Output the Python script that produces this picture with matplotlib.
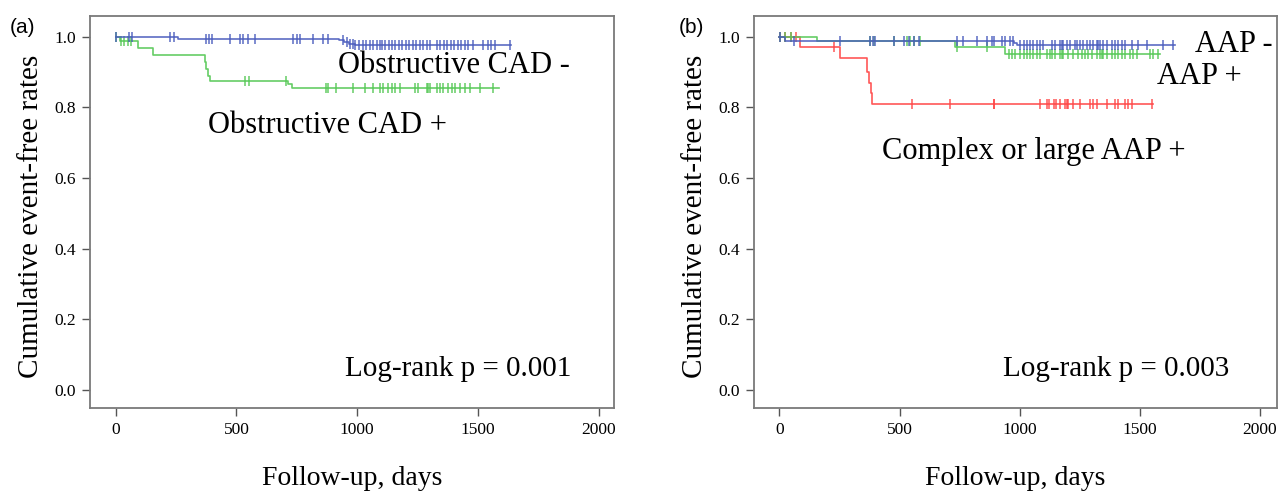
import numpy as np
import matplotlib
matplotlib.use("Agg")
import matplotlib.pyplot as plt

plt.rcParams["font.family"] = ["Liberation Serif", "DejaVu Serif"]

# ---- panel (a): obstructive CAD ----
a_neg_t = [0, 257, 925, 945, 965, 990, 1635]
a_neg_s = [1.0, 0.994, 0.990, 0.986, 0.981, 0.977, 0.977]
a_neg_cens = [3, 54, 66, 224, 240, 374, 385, 397, 472, 513, 526, 547, 576, 733, 749,
              762, 816, 857, 878, 940, 956, 969, 981, 992, 1008, 1022, 1037, 1051, 1066,
              1080, 1094, 1101, 1115, 1130, 1144, 1158, 1172, 1187, 1201, 1215, 1230, 1244,
              1258, 1273, 1287, 1301, 1330, 1344, 1358, 1372, 1387, 1401, 1415, 1430, 1444,
              1458, 1479, 1520, 1541, 1555, 1569, 1631]
a_pos_t = [0, 17, 92, 155, 369, 376, 383, 390, 714, 728, 1585]
a_pos_s = [1.0, 0.987, 0.968, 0.949, 0.930, 0.910, 0.890, 0.876, 0.866, 0.856, 0.856]
a_pos_cens = [3, 24, 37, 51, 65, 534, 552, 707, 872, 879, 914, 983, 1031, 1066, 1093,
              1107, 1128, 1142, 1155, 1176, 1238, 1252, 1287, 1293, 1300, 1328, 1342,
              1356, 1376, 1390, 1404, 1424, 1445, 1466, 1507, 1562]

# ---- panel (b): AAP ----
b_neg_t = [0, 25, 975, 990, 1647]
b_neg_s = [1.0, 0.988, 0.982, 0.976, 0.976]
b_neg_cens = [4, 59, 254, 378, 388, 399, 475, 517, 538, 559, 580, 739, 766, 822, 864,
              884, 891, 926, 940, 961, 972, 1002, 1016, 1030, 1044, 1057, 1072, 1085,
              1099, 1134, 1148, 1168, 1175, 1182, 1196, 1210, 1231, 1238, 1251, 1265,
              1279, 1293, 1307, 1321, 1328, 1335, 1348, 1362, 1383, 1397, 1411, 1425,
              1439, 1466, 1494, 1529, 1598, 1640]
b_pos_t = [0, 157, 732, 940, 1584]
b_pos_s = [1.0, 0.988, 0.970, 0.952, 0.952]
b_pos_cens = [4, 25, 46, 378, 392, 475, 531, 545, 559, 586, 739, 864, 954, 968, 981,
              1002, 1016, 1030, 1044, 1057, 1072, 1085, 1113, 1127, 1134, 1148, 1168,
              1175, 1182, 1203, 1223, 1244, 1258, 1272, 1286, 1300, 1321, 1335, 1342,
              1348, 1362, 1383, 1397, 1411, 1425, 1439, 1459, 1473, 1487, 1543, 1556, 1577]
b_cx_t = [0, 87, 254, 365, 372, 380, 386, 1554]
b_cx_s = [1.0, 0.972, 0.940, 0.900, 0.870, 0.840, 0.810, 0.810]
b_cx_cens = [4, 25, 46, 67, 226, 551, 711, 891, 895, 1085, 1113, 1124, 1141, 1152,
             1168, 1189, 1196, 1203, 1223, 1251, 1293, 1307, 1320, 1362, 1397, 1411,
             1439, 1452, 1466, 1550]

BLUE = "#4a5cbd"
GREEN = "#55c855"
RED = "#ff4545"


def km_curve(ax, t, s, cens, color):
    t = np.asarray(t, dtype=float)
    s = np.asarray(s, dtype=float)
    ax.step(t, s, where="post", color=color, lw=1.2, alpha=0.9)
    c = np.asarray(cens, dtype=float)
    idx = np.searchsorted(t, c, side="right") - 1
    ax.plot(c, s[idx], ls="none", marker="|", ms=7, mew=1.1, color=color, alpha=0.9)


def style_axes(ax, xmax):
    ax.set_xlim(-106, xmax)
    ax.set_ylim(-0.051, 1.059)
    ax.set_xticks([0, 500, 1000, 1500, 2000])
    ax.set_yticks([0.0, 0.2, 0.4, 0.6, 0.8, 1.0])
    ax.set_yticklabels(["0.0", "0.2", "0.4", "0.6", "0.8", "1.0"])
    for sp in ax.spines.values():
        sp.set_color("#7a7a7a")
        sp.set_linewidth(1.3)
    ax.tick_params(direction="out", length=6, width=1.0, color="#555555",
                   labelsize=12.5, pad=4)
    ax.set_xlabel("Follow-up, days", fontsize=20)
    ax.xaxis.set_label_coords(0.5, -0.179)
    ax.xaxis.label.set_verticalalignment("center")
    ax.set_ylabel("Cumulative event-free rates", fontsize=21)
    ax.yaxis.set_label_coords(-0.112, 0.49)
    ax.yaxis.label.set_verticalalignment("center")


fig = plt.figure(figsize=(12.83, 4.94), dpi=100)
ax1 = fig.add_axes([0.0701, 0.1741, 0.4084, 0.7935])
ax2 = fig.add_axes([0.5877, 0.1741, 0.4076, 0.7935])

km_curve(ax1, a_pos_t, a_pos_s, a_pos_cens, GREEN)
km_curve(ax1, a_neg_t, a_neg_s, a_neg_cens, BLUE)
style_axes(ax1, 2062)
ax1.text(919, 0.918, "Obstructive CAD -", fontsize=22, va="center", ha="left")
ax1.text(381, 0.75, "Obstructive CAD +", fontsize=22, va="center", ha="left")
ax1.text(948, 0.06, "Log-rank p = 0.001", fontsize=21, va="center", ha="left")

km_curve(ax2, b_cx_t, b_cx_s, b_cx_cens, RED)
km_curve(ax2, b_pos_t, b_pos_s, b_pos_cens, GREEN)
km_curve(ax2, b_neg_t, b_neg_s, b_neg_cens, BLUE)
style_axes(ax2, 2071)
ax2.text(1730, 0.977, "AAP -", fontsize=22, va="center", ha="left", clip_on=False)
ax2.text(1572, 0.887, "AAP +", fontsize=22, va="center", ha="left")
ax2.text(428, 0.674, "Complex or large AAP +", fontsize=22, va="center", ha="left")
ax2.text(931, 0.06, "Log-rank p = 0.003", fontsize=21, va="center", ha="left")

fig.text(0.0078, 0.945, "(a)", fontsize=15, family=["Liberation Sans", "DejaVu Sans"],
         va="center", ha="left")
fig.text(0.529, 0.945, "(b)", fontsize=15, family=["Liberation Sans", "DejaVu Sans"],
         va="center", ha="left")

fig.savefig("out.png", dpi=100)
